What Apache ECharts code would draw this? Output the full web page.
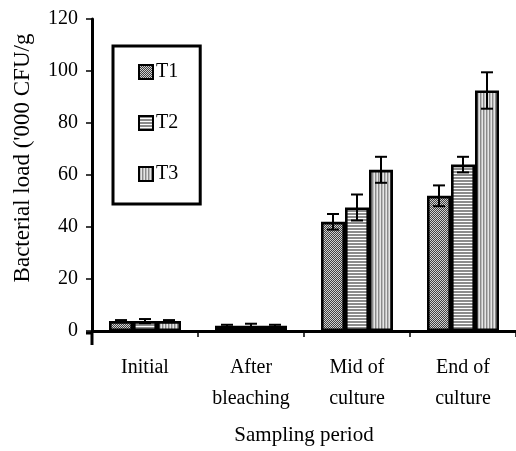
<!DOCTYPE html>
<html>
<head>
<meta charset="utf-8">
<script src="https://cdn.jsdelivr.net/npm/echarts@6/dist/echarts.min.js"></script>
<style>
html,body{margin:0;padding:0;background:#fff;}
#c{width:516px;height:451px;}
</style>
</head>
<body>
<div id="c"></div>
<script>
// ---- data ----
var categories = ['Initial', 'After\nbleaching', 'Mid of\nculture', 'End of\nculture'];
var seriesNames = ['T1', 'T2', 'T3'];
var t1 = [3.8, 2, 42, 52];
var t2 = [3.8, 2, 47.5, 64];
var t3 = [3.8, 2, 62, 92.5];
var e1 = [0.4, 0.4, 3, 4];
var e2 = [0.8, 0.8, 5, 3];
var e3 = [0.4, 0.4, 5, 7];
var yTicks = [0, 20, 40, 60, 80, 100, 120];

// ---- patterns ----
function mk(w, h, draw) {
  var c = document.createElement('canvas');
  c.width = w; c.height = h;
  var g = c.getContext('2d');
  draw(g);
  return c;
}
var patT1 = mk(4, 4, function (g) {
  g.fillStyle = '#d0d0d0'; g.fillRect(0, 0, 4, 4);
  g.fillStyle = '#404040';
  for (var i = 0; i < 4; i++) { g.fillRect(3 - i, i, 1, 1); g.fillRect((5 - i) % 4, i, 1, 1); }
});
var patT2 = mk(4, 3, function (g) {
  g.fillStyle = '#ffffff'; g.fillRect(0, 0, 4, 3);
  g.fillStyle = '#8c8c8c'; g.fillRect(0, 0, 4, 2);
});
var patT3 = mk(3, 4, function (g) {
  g.fillStyle = '#e6e6e6'; g.fillRect(0, 0, 3, 4);
  g.fillStyle = '#8a8a8a'; g.fillRect(0, 0, 1, 4);
  g.fillStyle = '#bdbdbd'; g.fillRect(1, 0, 1, 4);
});
var pats = [patT1, patT2, patT3];
var vals = [t1, t2, t3];
var errs = [e1, e2, e3];

var BAR_W = 24;
var font = 'Liberation Serif';

var series = [];
seriesNames.forEach(function (n, k) {
  series.push({
    name: n,
    type: 'bar',
    data: vals[k],
    barWidth: BAR_W,
    barGap: '0%',
    itemStyle: { color: { image: pats[k], repeat: 'repeat' }, borderColor: '#000', borderWidth: 2.6 },
    z: 2
  });
});
seriesNames.forEach(function (n, k) {
  var d = vals[k].map(function (v, i) { return [i, v - errs[k][i], v + errs[k][i]]; });
  series.push({
    name: n + ' err',
    type: 'custom',
    z: 5,
    data: d,
    renderItem: function (params, api) {
      var lo = api.coord([api.value(0), api.value(1)]);
      var hi = api.coord([api.value(0), api.value(2)]);
      var x = lo[0] + (k - 1) * BAR_W;
      var cw = 6;
      var st = { stroke: '#000', lineWidth: 2 };
      return {
        type: 'group',
        children: [
          { type: 'line', shape: { x1: x, y1: lo[1], x2: x, y2: hi[1] }, style: st },
          { type: 'line', shape: { x1: x - cw, y1: lo[1], x2: x + cw, y2: lo[1] }, style: st },
          { type: 'line', shape: { x1: x - cw, y1: hi[1], x2: x + cw, y2: hi[1] }, style: st }
        ]
      };
    }
  });
});

var chart = echarts.init(document.getElementById('c'), null, { renderer: 'canvas' });
chart.setOption({
  animation: false,
  backgroundColor: '#fff',
  textStyle: { fontFamily: font, color: '#000' },
  grid: { left: 92, top: 19, width: 430, height: 314 },
  legend: {
    data: seriesNames,
    orient: 'vertical',
    left: 113,
    top: 46,
    padding: [16, 22, 20, 25],
    itemWidth: 14,
    itemHeight: 14,
    itemGap: 31,
    icon: 'rect',
    borderColor: '#000',
    borderWidth: 3,
    textStyle: { fontFamily: font, fontSize: 20, color: '#000', padding: [0, 0, 0, -2] }
  },
  xAxis: {
    type: 'category',
    data: categories,
    name: 'Sampling period',
    nameLocation: 'middle',
    nameGap: 94,
    nameTextStyle: { fontFamily: font, fontSize: 21, color: '#000' },
    axisLine: { lineStyle: { color: '#000', width: 3 } },
    axisTick: { show: true, length: 6, lineStyle: { color: '#000', width: 1.5 } },
    axisLabel: { fontFamily: font, fontSize: 20, color: '#000', margin: 21, lineHeight: 31 }
  },
  yAxis: {
    type: 'value',
    min: 0,
    max: 120,
    interval: 20,
    axisLine: { show: true, lineStyle: { color: '#000', width: 3 } },
    axisTick: { show: true, length: 6, lineStyle: { color: '#000', width: 1.5 } },
    splitLine: { show: false },
    axisLabel: {
      fontFamily: font, fontSize: 20, color: '#000', margin: 14,
      formatter: function (v) { return yTicks.indexOf(v) >= 0 ? String(v) : ''; }
    }
  },
  graphic: [
    {
      type: 'text',
      x: 23, y: 158,
      rotation: Math.PI / 2,
      style: { text: "Bacterial load ('000 CFU/g", font: '23px "Liberation Serif"', fill: '#000', align: 'center', verticalAlign: 'middle' }
    },
    {
      type: 'line',
      shape: { x1: 92, y1: 333, x2: 92, y2: 345 },
      style: { stroke: '#000', lineWidth: 3 }
    },
    {
      type: 'line',
      shape: { x1: 86, y1: 333, x2: 92, y2: 333 },
      style: { stroke: '#000', lineWidth: 3 }
    }
  ],
  series: series
});
</script>
</body>
</html>
